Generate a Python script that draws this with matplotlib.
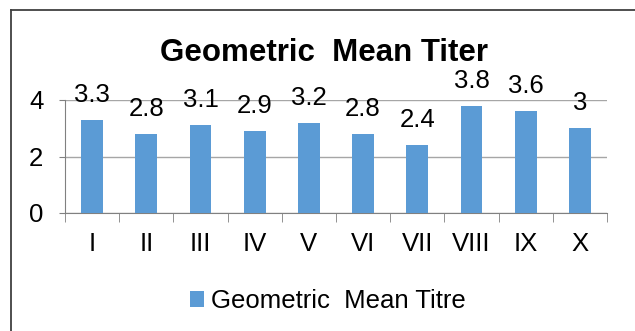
import numpy as np
import matplotlib
matplotlib.use('Agg')
import matplotlib.pyplot as plt
from matplotlib.lines import Line2D

plt.rcParams['font.family'] = ['Liberation Sans', 'DejaVu Sans']

# Dane
groups = ['I', 'II', 'III', 'IV', 'V', 'VI', 'VII', 'VIII', 'IX', 'X']
gmt = [3.3, 2.8, 3.1, 2.9, 3.2, 2.8, 2.4, 3.8, 3.6, 3.0]
value_labels = ['3.3', '2.8', '3.1', '2.9', '3.2', '2.8', '2.4', '3.8', '3.6', '3']
y_ticks = [0, 2, 4]

FS = 18.5
W, H = 635, 331
fig = plt.figure(figsize=(W / 100, H / 100), dpi=100)
ax = fig.add_axes([65 / W, 1 - 213 / H, (607 - 65) / W, (213 - 100) / H])

x = np.arange(len(groups))
bars = ax.bar(x, gmt, width=0.4, color='#5B9BD5', label='Geometric  Mean Titre', zorder=3)

for xi, v, lab in zip(x, gmt, value_labels):
    ax.annotate(lab, (xi, v), xytext=(0, 13), textcoords='offset points',
                ha='center', va='baseline', fontsize=FS)

ax.set_xlim(-0.5, len(groups) - 0.5)
ax.set_ylim(0, 4)
ax.set_yticks(y_ticks)
ax.set_yticklabels([str(t) for t in y_ticks], fontsize=FS)
ax.set_xticks(x)
ax.set_xticklabels(groups, fontsize=FS)
ax.set_xticks(np.arange(-0.5, len(groups)), minor=True)
ax.tick_params(axis='x', which='major', length=0, pad=14)
ax.tick_params(axis='x', which='minor', length=6.5, color='#808080', direction='out')
ax.tick_params(axis='y', length=4.5, color='#808080', pad=11)

ax.grid(axis='y', color='#A6A6A6', linewidth=1, zorder=0)
for s in ['top', 'right']:
    ax.spines[s].set_visible(False)
ax.spines['left'].set_color('#808080')
ax.spines['bottom'].set_color('#808080')

fig.text(324 / W, 1 - 53 / H, 'Geometric  Mean Titer', ha='center', va='center',
         fontsize=22.5, fontweight='bold')

fig.legend(handles=[bars], loc='center', bbox_to_anchor=(328 / W, 1 - 301 / H),
           frameon=False, fontsize=FS, handlelength=0.55, handleheight=0.55,
           handletextpad=0.25)

# Ramka wykresu
fig.add_artist(Line2D([11 / W, 11 / W], [0, 1 - 10 / H], transform=fig.transFigure,
                      color='#404040', linewidth=1.3))
fig.add_artist(Line2D([11 / W, 1], [1 - 10 / H, 1 - 10 / H], transform=fig.transFigure,
                      color='#404040', linewidth=1.3))

fig.savefig('out.png', dpi=100)
